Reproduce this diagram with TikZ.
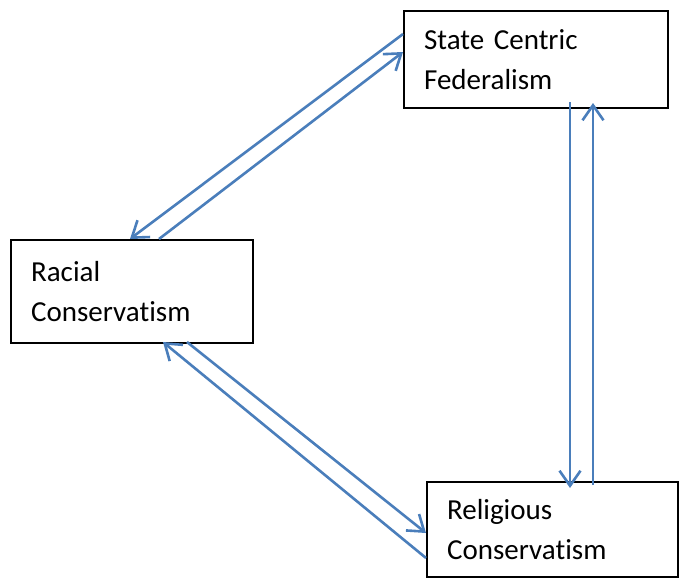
\documentclass[tikz,border=0pt]{standalone}
\usepackage{fontspec}
\setmainfont{Carlito}[Ligatures=NoCommon]
\usetikzlibrary{positioning, arrows.meta, calc}

\definecolor{linkblue}{RGB}{74,126,187}

\begin{document}
\begin{tikzpicture}[
    x=1pt, y=-1pt,
    % Styles
    box/.style={% For the three boxes
        rectangle,
        draw,
        line width=2.2pt,
        anchor=north west,
        align=left,
        inner xsep=20pt,
        inner ysep=0pt,
        font=\fontsize{29}{40}\selectfont,
        },
    link/.style={% Blue arrows between boxes
        draw=linkblue,
        line width=2.6pt,
        -{Straight Barb[length=15pt,width=21pt,line width=2.6pt]},
        },
    ]

    \useasboundingbox (0,0) rectangle (682,578);

    % Draw the boxes
    \node [box, minimum width=264pt, minimum height=97pt, text width=224pt] (scf) at (403,10) {State Centric\\Federalism};
    \node [box, minimum width=242pt, minimum height=103pt, text width=202pt] (rac) at (10,239) {Racial\\Conservatism};
    \node [box, minimum width=251pt, minimum height=95pt, text width=211pt] (rel) at (426,481) {Religious\\Conservatism};

    % Arrows between State Centric Federalism and Racial Conservatism
    \draw [link] ($(scf.north west)+(0,24)$) -- ($(rac.north west)+(120,0)$);
    \draw [link] ($(rac.north west)+(149,0)$) -- ($(scf.north west)+(0,42)$);

    % Arrows between State Centric Federalism and Religious Conservatism
    \draw [link] ($(scf.north west)+(167,92)$) -- ($(rel.north west)+(144,7)$);
    \draw [link] ($(rel.north west)+(167,4)$) -- ($(scf.north west)+(190,93)$);

    % Arrows between Racial Conservatism and Religious Conservatism
    \draw [link] ($(rac.north west)+(177,103)$) -- ($(rel.north west)+(0,52)$);
    \draw [link] ($(rel.north west)+(0,77)$) -- ($(rac.north west)+(153,103)$);

\end{tikzpicture}
\end{document}
